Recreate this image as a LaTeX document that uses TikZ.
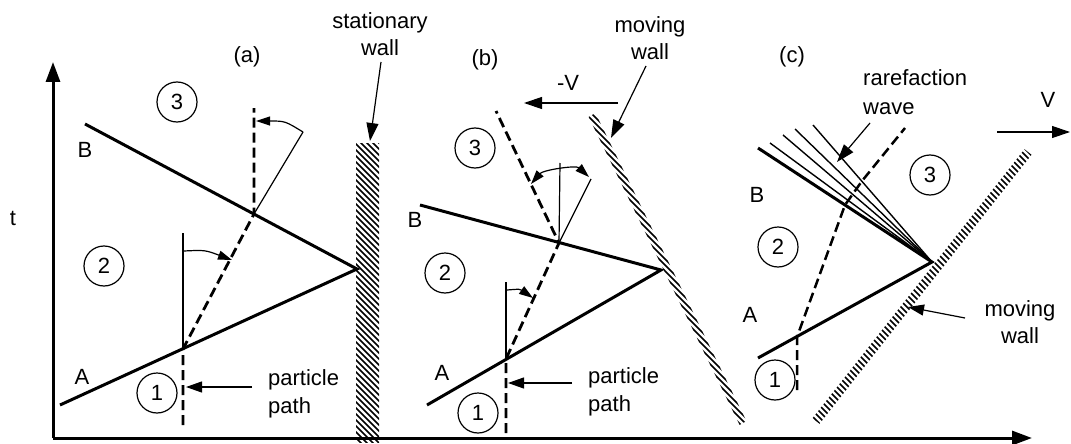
\documentclass[tikz,border=0pt]{standalone}
\usepackage{fontspec}
\setmainfont{Liberation Sans}
\usetikzlibrary{arrows.meta}
\begin{document}
\begin{tikzpicture}[x=1pt,y=-1pt,
  thickline/.style={line width=3pt,line join=miter},
  thinline/.style={line width=1.2pt},
  fanline/.style={line width=1.4pt},
  pathdash/.style={line width=2.8pt,dash pattern=on 10pt off 5pt},
  hatch/.style={line width=1.7pt},
  axis/.style={line width=3pt,-{Triangle[length=20pt,width=14pt]}},
  bigptr/.style={line width=1.2pt,-{Triangle[length=18pt,width=12pt]}},
  ptr/.style={line width=1.2pt,-{Triangle[length=16pt,width=11pt]}},
  smallarr/.style={line width=1.2pt,-{Triangle[length=14pt,width=9pt]}},
  dblarr/.style={line width=1.2pt,{Triangle[length=14pt,width=9pt]}-{Triangle[length=14pt,width=9pt]}},
  region/.style={circle,draw,line width=1.2pt,minimum size=40pt,inner sep=0pt,font=\fontsize{22}{26}\selectfont},
  lbl/.style={inner sep=0pt,font=\fontsize{22}{27}\selectfont},
  mlbl/.style={inner sep=0pt,align=center,font=\fontsize{22}{27}\selectfont},
  llbl/.style={inner sep=0pt,align=left,anchor=west,font=\fontsize{22}{28}\selectfont},
  ]
\useasboundingbox (0,0) rectangle (1071,444);

% ---------------- axes
\coordinate (O) at (53,438);
\coordinate (Ytip) at (53,62);
\coordinate (Xtip) at (1032,438);
\draw[axis] (O) -- (Ytip);
\draw[axis] (O) -- (Xtip);
\node[lbl] (tlab) at (13,218) {t};

% ---------------- panel (a)
\node[lbl] (alab) at (247,57) {(a)};
\node[mlbl] (swlab) at (380,34) {stationary\\wall};
\coordinate (aA) at (60,405);
\coordinate (aP) at (357,269);
\coordinate (aB) at (85,124);
\draw[thickline] (aA) -- (aP) -- (aB);
\node[lbl] (aAlab) at (82,377) {A};
\node[lbl] (aBlab) at (85,150) {B};
\coordinate (aq0) at (183,425);
\coordinate (aq1) at (183,349);
\coordinate (aq2) at (254,214);
\coordinate (aq3) at (254,108);
\draw[pathdash] (aq0) -- (aq1) -- (aq2) -- (aq3);
\coordinate (av1) at (183,233);
\draw[thinline] (aq1) -- (av1);
\coordinate (aa1) at (184,251);
\coordinate (aa2) at (232,260);
\draw[smallarr] (aa1) .. controls (205,250) .. (aa2);
\coordinate (as1) at (303,132);
\draw[thinline] (aq2) -- (as1);
\coordinate (aa3) at (256,121);
\draw[smallarr] (as1) .. controls (285,121) .. (aa3);
\node[region] (a1) at (157,393) {1};
\node[region] (a2) at (104,266) {2};
\node[region] (a3) at (177,102) {3};
\node[llbl] (appl) at (268,394) {particle\\path};
\coordinate (apt) at (186,387);
\draw[ptr] (252,387) -- (apt);
% stationary wall
\begin{scope}
  \clip (356,143) rectangle (379,442);
  \foreach \c in {-100,-94,...,245} \draw[hatch] (\c+138,138) -- (\c+446,446);
\end{scope}
\coordinate (swtip) at (370,141);
\draw[bigptr] (381,62) -- (swtip);

% ---------------- panel (b)
\node[lbl] (blab) at (485,60) {(b)};
\node[mlbl] (mwlab) at (650,38) {moving\\wall};
\coordinate (bA) at (427,405);
\coordinate (bP) at (661,270);
\coordinate (bB) at (420,205);
\draw[thickline] (bA) -- (bP) -- (bB);
\node[lbl] (bAlab) at (442,373) {A};
\node[lbl] (bBlab) at (415,220) {B};
\coordinate (bq0) at (506,433);
\coordinate (bq1) at (506,359);
\coordinate (bq2) at (559,243);
\coordinate (bq3) at (496,111);
\draw[pathdash] (bq0) -- (bq1) -- (bq2) -- (bq3);
\coordinate (bv1) at (506,282);
\draw[thinline] (bq1) -- (bv1);
\draw[smallarr] (507,290) .. controls (520,289) .. (533,298);
\coordinate (bv2) at (560,163);
\coordinate (bs2) at (591,179);
\draw[thinline] (bq2) -- (bv2);
\draw[thinline] (bq2) -- (bs2);
\draw[dblarr] (531,184) .. controls (543,170) and (576,165) .. (589,177);
\node[region] (b1) at (478,413) {1};
\node[region] (b2) at (445,273) {2};
\node[region] (b3) at (475,148) {3};
\node[llbl] (bppl) at (588,392) {particle\\path};
\coordinate (bpt) at (508,383);
\draw[ptr] (572,383) -- (bpt);
\node[lbl] (vmlab) at (568,83) {-V};
\coordinate (vm1) at (618,103);
\coordinate (vm2) at (524,103);
\draw[bigptr] (vm1) -- (vm2);
% moving wall (b)
\begin{scope}
  \clip (588.6,116.9) -- (595.4,113.1) -- (746.4,421.1) -- (739.6,424.9) -- cycle;
  \foreach \c in {304,310,...,490} \draw[hatch,line width=1.5pt] (\c+100,100) -- (\c+440,440);
\end{scope}
\coordinate (bwtip) at (611,138);
\draw[bigptr] (646,66) -- (bwtip);

% ---------------- panel (c)
\node[lbl] (clab) at (792,57) {(c)};
\node[llbl,font=\fontsize{22}{29}\selectfont] (rwlab) at (863,92) {rarefaction\\wave};
\coordinate (cA) at (758,358);
\coordinate (cP) at (932,262);
\coordinate (cB) at (758,148);
\foreach \p in {(770,143),(783,135),(795,129),(813,125)} \draw[fanline] (cP) -- \p;
\draw[thickline] (cA) -- (cP) -- (cB);
\node[lbl] (cAlab) at (750,315) {A};
\node[lbl] (cBlab) at (757,195) {B};
\coordinate (cq0) at (797,390);
\coordinate (cq1) at (797,337);
\coordinate (cq2) at (845,205);
\coordinate (cq3) at (862,181);
\coordinate (cq4) at (905,128);
\draw[pathdash,line width=2.5pt] (cq0) -- (cq1) -- (cq2) -- (cq3) -- (cq4);
\coordinate (rwtip) at (837,162);
\draw[bigptr] (870,123) -- (rwtip);
\node[region] (c1) at (775,380) {1};
\node[region] (c2) at (778,247) {2};
\node[region] (c3) at (930,175) {3};
\node[lbl] (vlab) at (1048,100) {V};
\coordinate (vp1) at (997,132);
\coordinate (vp2) at (1070,132);
\draw[bigptr] (vp1) -- (vp2);
% moving wall (c)
\begin{scope}
  \clip (812.5,418.2) -- (819.5,423.8) -- (1031.5,154.8) -- (1024.5,149.2) -- cycle;
  \foreach \c in {384,390,...,885} \draw[hatch,line width=1.5pt] (\c+100,100) -- (\c+440,440);
\end{scope}
\node[mlbl] (cmwlab) at (1020,322) {moving\\wall};
\coordinate (cwtip) at (908,307);
\draw[ptr] (965,318) -- (cwtip);
\end{tikzpicture}
\end{document}
